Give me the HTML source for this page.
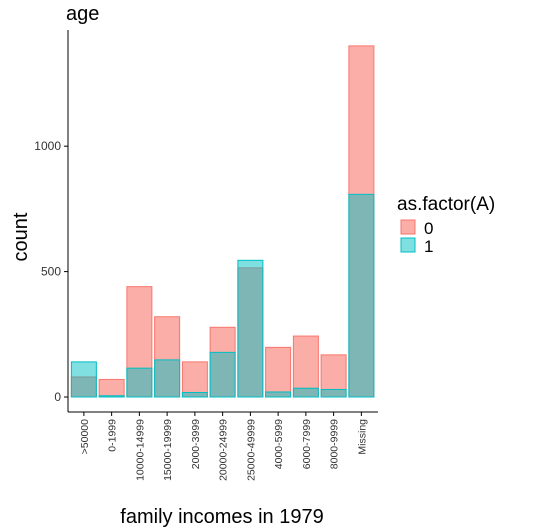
<!DOCTYPE html>
<html><head><meta charset="utf-8"><style>
body{margin:0;background:#fff;}
svg{display:block;font-family:"Liberation Sans",sans-serif;}
</style></head><body>
<svg id="chart" width="552" height="532">
<text x="66" y="20" font-size="20">age</text>
<text transform="translate(27,237) rotate(-90)" text-anchor="middle" font-size="20">count</text>
<text x="222" y="523" text-anchor="middle" font-size="20">family incomes in 1979</text>
<g id="bars"></g>
<g id="axes"></g>
<g>
<text x="397" y="210" font-size="19">as.factor(A)</text>
<rect x="401" y="220" width="14" height="14" fill="rgba(248,118,109,0.6)" stroke="#F8766D"/>
<text x="424" y="234" font-size="17">0</text>
<rect x="401" y="238" width="14" height="14" fill="rgba(0,191,196,0.5)" stroke="#00BFC4"/>
<text x="424" y="252" font-size="17">1</text>
</g>
</svg>
<script>
const categories=[">50000","0-1999","10000-14999","15000-19999","2000-3999","20000-24999","25000-49999","4000-5999","6000-7999","8000-9999","Missing"];
const series0=[80,70,440,320,140,278,515,198,243,168,1400];
const series1=[140,5,115,148,18,178,545,20,35,30,808];
const yTicks=[0,500,1000];
const NS="http://www.w3.org/2000/svg";
const x0=70,step=27.75,bw=25;
const y=v=>397-v*0.2508;
const xc=i=>x0+step*(i+0.5);
const bars=document.getElementById('bars'),axes=document.getElementById('axes');
function mk(t,a,p){const e=document.createElementNS(NS,t);for(const k in a)e.setAttribute(k,a[k]);p.appendChild(e);return e;}
[[series0,"rgba(248,118,109,0.6)","#F8766D","bar-0"],[series1,"rgba(0,191,196,0.5)","#00BFC4","bar-1"]].forEach(([s,f,st,n])=>{
 s.forEach((v,i)=>{const r=mk('rect',{x:xc(i)-bw/2,y:y(v),width:bw,height:y(0)-y(v),fill:f,stroke:st,'stroke-width':1},bars);
 
 });
});
mk('line',{x1:68,y1:30,x2:68,y2:412,stroke:'#000'},axes);
mk('line',{x1:68,y1:412,x2:378,y2:412,stroke:'#000'},axes);
yTicks.forEach(t=>{mk('line',{x1:64,x2:68,y1:y(t),y2:y(t),stroke:'#000'},axes);
 const tx=mk('text',{x:61,y:y(t)+4,'text-anchor':'end','font-size':12,fill:'#333'},axes);tx.textContent=t;
 
 });
categories.forEach((c,i)=>{mk('line',{x1:xc(i),x2:xc(i),y1:412,y2:416,stroke:'#000'},axes);
 const tx=mk('text',{transform:`translate(${xc(i)+4},419) rotate(-90)`,'text-anchor':'end','font-size':10.5,fill:'#333'},axes);tx.textContent=c;
 
 });
</script>
</body></html>
